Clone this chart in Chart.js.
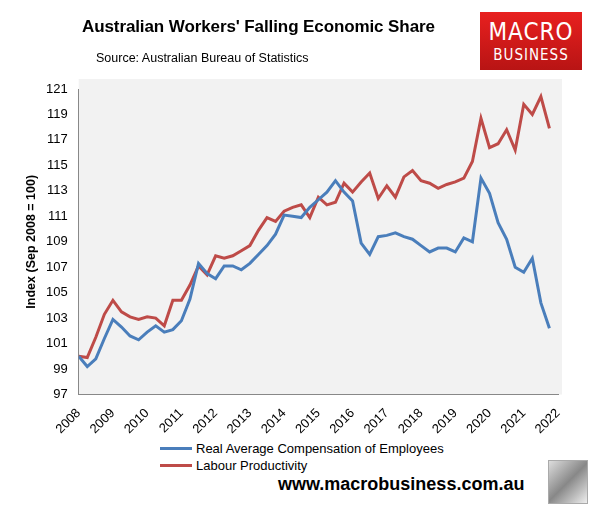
<!DOCTYPE html>
<html><head><meta charset="utf-8">
<script src="https://cdn.jsdelivr.net/npm/chart.js@4"></script>
<style>
body{margin:0;width:594px;height:512px;background:#fff;font-family:"Liberation Sans",Arial,sans-serif;position:relative;overflow:hidden}
#c{position:absolute;left:0;top:0}
.t{position:absolute;left:82px;top:17px;font-size:17px;font-weight:bold;color:#000;letter-spacing:-0.1px}
.s{position:absolute;left:96px;top:51px;font-size:12.5px;color:#000}
.logo{position:absolute;left:480px;top:12px;width:102px;height:58px;background:linear-gradient(#e8201f,#b81414);color:#fff;text-align:center;font-family:"DejaVu Sans Condensed","Liberation Sans",sans-serif}
.logo .a{font-size:24px;margin-top:6px;letter-spacing:1px}
.logo .b{font-size:15px;letter-spacing:1px}
.leg{position:absolute;left:160px;top:440px;font-size:13px;line-height:17px}
.leg div{display:flex;align-items:center}
.leg span{display:inline-block;width:32px;height:3px;margin-right:4px}
.url{position:absolute;left:278px;top:474px;font-size:18px;font-weight:bold}
.wolf{position:absolute;left:548px;top:460px;width:38px;height:42px;background:linear-gradient(135deg,#ddd,#888,#eee);border:1px solid #aaa}
</style></head><body>
<canvas id="c" width="594" height="440"></canvas>
<div class="t">Australian Workers' Falling Economic Share</div>
<div class="s">Source: Australian Bureau of Statistics</div>
<div class="logo"><div class="a">MACRO</div><div class="b">BUSINESS</div></div>
<div class="leg"><div><span style="background:#4a7ebb"></span>Real Average Compensation of Employees</div><div><span style="background:#be4b48"></span>Labour Productivity</div></div>
<div class="url">www.macrobusiness.com.au</div>
<div class="wolf"></div>
<script>
const startYear = 2008;
const compensation = [100.0,99.2,99.8,101.4,102.9,102.3,101.6,101.3,101.9,102.4,101.9,102.1,102.8,104.5,107.3,106.5,106.1,107.1,107.1,106.8,107.3,108.0,108.7,109.6,111.1,111.0,110.9,111.7,112.3,112.9,113.8,112.9,112.2,108.9,108.0,109.4,109.5,109.7,109.4,109.2,108.7,108.2,108.5,108.5,108.2,109.3,109.0,114.0,112.8,110.5,109.2,107.0,106.6,107.7,104.2,102.2];
const productivity = [100.0,99.9,101.5,103.3,104.4,103.5,103.1,102.9,103.1,103.0,102.4,104.4,104.4,105.6,107.1,106.4,107.9,107.7,107.9,108.3,108.7,109.9,110.9,110.6,111.4,111.7,111.9,110.9,112.5,111.9,112.1,113.6,112.9,113.7,114.4,112.4,113.4,112.5,114.1,114.6,113.8,113.6,113.2,113.5,113.7,114.0,115.3,118.7,116.4,116.7,117.8,116.2,119.8,119.0,120.4,117.9];
const pts = a => a.map((v,i)=>({x:startYear+i*0.25,y:v}));
const bg={id:'bg',beforeDraw(ch){const a=ch.chartArea,x=ch.ctx;x.save();x.fillStyle='#f2f2f2';x.fillRect(a.left,a.top-10,a.right-a.left+4,a.bottom-a.top+10);x.restore();}};
new Chart(document.getElementById('c'),{type:'line',
data:{datasets:[
{data:pts(compensation),borderColor:'#4a7ebb',borderWidth:3,pointRadius:0,tension:0},
{data:pts(productivity),borderColor:'#be4b48',borderWidth:3,pointRadius:0,tension:0}]},
options:{responsive:false,animation:false,layout:{padding:{top:89,right:36,left:20,bottom:0}},
plugins:{legend:{display:false},tooltip:{enabled:false}},
scales:{
x:{type:'linear',min:2008,max:2022,ticks:{stepSize:1,maxRotation:45,minRotation:45,color:'#000',font:{size:13,family:'Liberation Sans'},callback:v=>String(v)},grid:{display:false,drawTicks:true},border:{color:'#888'}},
y:{min:97,max:121,ticks:{stepSize:2,color:'#000',font:{size:13,family:'Liberation Sans'}},grid:{display:false},border:{color:'#888'},
title:{display:true,text:'Index (Sep 2008 = 100)',color:'#000',font:{size:12.5,weight:'bold',family:'Liberation Sans'}}}}},
plugins:[bg]});
</script></body></html>
